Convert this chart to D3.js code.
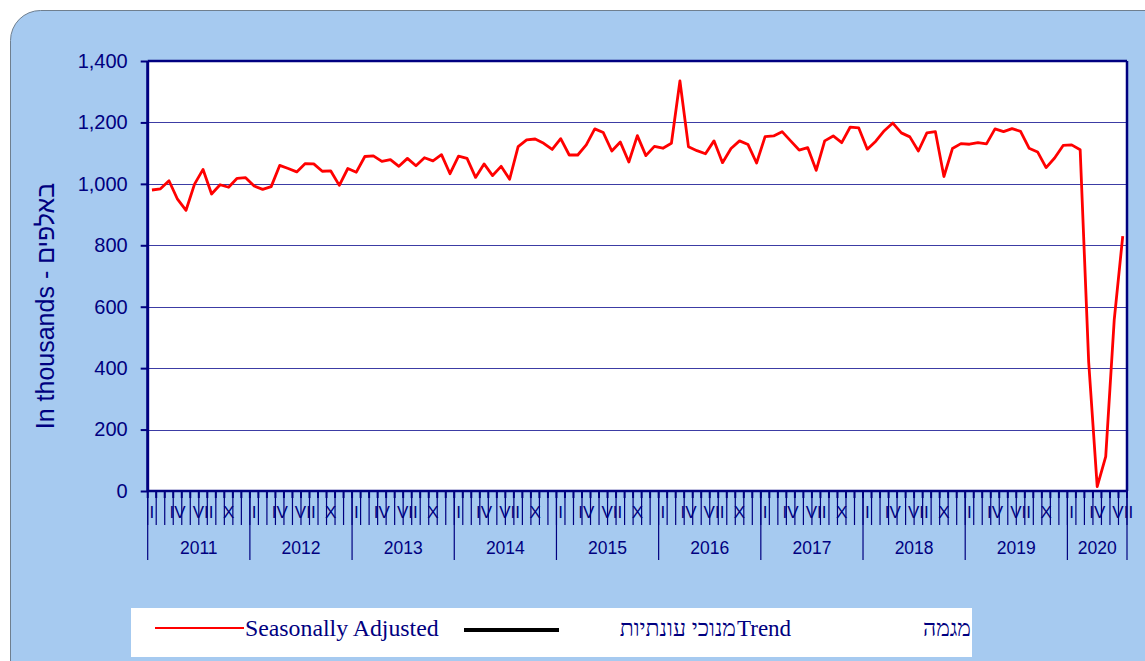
<!DOCTYPE html>
<html>
<head>
<meta charset="utf-8">
<script src="https://cdn.jsdelivr.net/npm/d3@7"></script>
<style>
body { margin: 0; background: #fff; }
svg { display: block; }
</style>
</head>
<body>
<div id="chart"></div>
<script>
// data (thousands), Jan 2011 .. Jul 2020
const years = [2011, 2012, 2013, 2014, 2015, 2016, 2017, 2018, 2019, 2020];
const monthsInYear = [12, 12, 12, 12, 12, 12, 12, 12, 12, 7];
const monthLabels = ["I", "", "", "IV", "", "", "VII", "", "", "X", "", ""];
const yTicks = [0, 200, 400, 600, 800, 1000, 1200, 1400];
const seasonallyAdjusted = [
    980, 984, 1010, 950, 914, 999, 1047, 967, 997, 989, 1018, 1020,
    993, 982, 991, 1060, 1050, 1039, 1066, 1065, 1041, 1042, 995, 1050,
    1038, 1089, 1091, 1073, 1079, 1057, 1083, 1059, 1085, 1075, 1095, 1033,
    1090, 1083, 1021, 1065, 1027, 1057, 1015, 1121, 1143, 1146, 1132, 1112,
    1147, 1094, 1094, 1127, 1179, 1167, 1107, 1136, 1071, 1157, 1092, 1122,
    1116, 1132, 1335, 1121, 1108, 1098, 1140, 1069, 1115, 1140, 1128, 1068,
    1154, 1156, 1170, 1140, 1110, 1118, 1044, 1140, 1156, 1134, 1185, 1182,
    1113, 1139, 1173, 1198, 1166, 1153, 1107, 1166, 1170, 1024, 1115, 1131,
    1129, 1134, 1130, 1179, 1170, 1180, 1171, 1116, 1104, 1053, 1084, 1125,
    1127, 1111, 420, 14, 112, 557, 830
];

// categories "2011-0" ...
const categories = [];
years.forEach((yr, i) => {
    for (let m = 0; m < monthsInYear[i]; m++) categories.push(yr + "-" + m);
});

const W = 1145, H = 661;
const navy = "#000080";
const plot = { left: 147.7, right: 1127, top: 61, bottom: 491 };

const svg = d3.select("#chart").append("svg")
    .attr("width", W)
    .attr("height", H);

// fond bleu arrondi
svg.append("rect")
    .attr("x", 10.5).attr("y", 10.5)
    .attr("width", 1170).attr("height", 700)
    .attr("rx", 30).attr("ry", 30)
    .attr("fill", "#a6caf0")
    .attr("stroke", "#6f7f8f")
    .attr("stroke-width", 1);

const x = d3.scaleBand()
    .domain(categories)
    .range([plot.left, plot.right])
    .paddingInner(0).paddingOuter(0);

const y = d3.scaleLinear()
    .domain([0, 1400])
    .range([plot.bottom, plot.top]);

// zona do grafico
svg.append("rect")
    .attr("x", plot.left).attr("y", plot.top)
    .attr("width", plot.right - plot.left)
    .attr("height", plot.bottom - plot.top)
    .attr("fill", "#fff");

// grelha
svg.append("g")
    .selectAll("line")
    .data(yTicks.filter(d => d > 0 && d < 1400))
    .enter()
    .append("line")
    .attr("x1", plot.left).attr("x2", plot.right)
    .attr("y1", d => Math.round(y(d)) + 0.5)
    .attr("y2", d => Math.round(y(d)) + 0.5)
    .attr("stroke", "#3c3ca4")
    .attr("stroke-width", 1);

// eixo Y
const yAxis = svg.append("g")
    .attr("transform", `translate(${plot.left},0)`)
    .call(d3.axisLeft(y).tickValues(yTicks).tickSize(7).tickPadding(13)
        .tickFormat(d3.format(",")));
yAxis.select(".domain").remove();
yAxis.selectAll("line").attr("stroke", navy).attr("stroke-width", 2);
yAxis.selectAll("text")
    .attr("fill", navy)
    .style("font-family", "Arial, 'Liberation Sans', sans-serif")
    .style("font-size", "20px");

// linhas das categorias (entre meses)
const bw = x.bandwidth();
const edges = categories.map(c => x(c)).concat([x(categories[categories.length - 1]) + bw]);

svg.append("g")
    .selectAll("line")
    .data(edges)
    .enter()
    .append("line")
    .attr("x1", d => d).attr("x2", d => d)
    .attr("y1", plot.bottom).attr("y2", 525)
    .attr("stroke", navy)
    .attr("stroke-width", 1.2);

svg.append("g")
    .selectAll("line")
    .data(edges)
    .enter()
    .append("line")
    .attr("x1", d => d).attr("x2", d => d)
    .attr("y1", plot.bottom).attr("y2", plot.bottom + 7)
    .attr("stroke", navy)
    .attr("stroke-width", 2);

// rotulos dos meses
svg.append("g")
    .selectAll("text")
    .data(categories.filter(c => monthLabels[+c.split("-")[1]] !== ""))
    .enter()
    .append("text")
    .attr("x", d => x(d) + bw / 2)
    .attr("y", 518)
    .attr("text-anchor", "middle")
    .attr("fill", navy)
    .style("font-family", "Arial, 'Liberation Sans', sans-serif")
    .style("font-size", "17px")
    .text(d => monthLabels[+d.split("-")[1]]);

// separadores dos anos + rotulos
let start = 0;
const yearSpans = years.map((yr, i) => {
    const first = categories[start];
    const last = categories[start + monthsInYear[i] - 1];
    start += monthsInYear[i];
    return { yr: yr, x0: x(first), x1: x(last) + bw };
});

svg.append("g")
    .selectAll("line")
    .data(yearSpans.map(d => d.x0).concat([plot.right]))
    .enter()
    .append("line")
    .attr("x1", d => d).attr("x2", d => d)
    .attr("y1", plot.bottom).attr("y2", 560)
    .attr("stroke", navy)
    .attr("stroke-width", 1.2);

svg.append("g")
    .selectAll("text")
    .data(yearSpans)
    .enter()
    .append("text")
    .attr("x", d => (d.x0 + d.x1) / 2)
    .attr("y", 554)
    .attr("text-anchor", "middle")
    .attr("fill", navy)
    .style("font-family", "Arial, 'Liberation Sans', sans-serif")
    .style("font-size", "17.5px")
    .text(d => d.yr);

// linha vermelha
const line = d3.line()
    .x((d, i) => x(categories[i]) + bw / 2)
    .y(d => y(d));

svg.append("path")
    .datum(seasonallyAdjusted)
    .attr("d", line)
    .attr("fill", "none")
    .attr("stroke", "#ff0000")
    .attr("stroke-width", 2.8)
    .attr("stroke-linejoin", "round");

// moldura
svg.append("line")
    .attr("x1", plot.left).attr("x2", plot.right)
    .attr("y1", plot.top).attr("y2", plot.top)
    .attr("stroke", navy).attr("stroke-width", 2.5);
svg.append("line")
    .attr("x1", plot.right).attr("x2", plot.right)
    .attr("y1", plot.top).attr("y2", plot.bottom)
    .attr("stroke", navy).attr("stroke-width", 2.5);
svg.append("line")
    .attr("x1", plot.left).attr("x2", plot.right)
    .attr("y1", plot.bottom).attr("y2", plot.bottom)
    .attr("stroke", navy).attr("stroke-width", 2.5);
svg.append("line")
    .attr("x1", plot.left).attr("x2", plot.left)
    .attr("y1", plot.top).attr("y2", plot.bottom)
    .attr("stroke", navy).attr("stroke-width", 3);

// titulo do eixo Y
svg.append("text")
    .attr("transform", "translate(54,306) rotate(-90)")
    .attr("text-anchor", "middle")
    .attr("fill", navy)
    .style("font-family", "Arial, 'Liberation Sans', sans-serif")
    .style("font-size", "25px")
    .text("In thousands - באלפים");

// legenda
const legend = svg.append("g");
legend.append("rect")
    .attr("x", 131).attr("y", 608)
    .attr("width", 841).attr("height", 49)
    .attr("fill", "#fff");
legend.append("line")
    .attr("x1", 155).attr("x2", 244)
    .attr("y1", 628).attr("y2", 628)
    .attr("stroke", "#ff0000").attr("stroke-width", 2);
legend.append("text")
    .attr("x", 245).attr("y", 636)
    .attr("fill", navy)
    .style("font-family", "'Liberation Serif', 'Times New Roman', serif")
    .style("font-size", "23.8px")
    .text("Seasonally Adjusted");
legend.append("line")
    .attr("x1", 464).attr("x2", 559)
    .attr("y1", 630).attr("y2", 630)
    .attr("stroke", "#000").attr("stroke-width", 4);
legend.append("text")
    .attr("x", 736).attr("y", 636)
    .attr("text-anchor", "end")
    .attr("fill", navy)
    .style("font-family", "'Liberation Serif', 'Times New Roman', serif")
    .style("font-size", "23px")
    .text("מנוכי עונתיות");
legend.append("text")
    .attr("x", 737).attr("y", 636)
    .attr("fill", navy)
    .style("font-family", "'Liberation Serif', 'Times New Roman', serif")
    .style("font-size", "23px")
    .text("Trend");
legend.append("text")
    .attr("x", 971).attr("y", 636)
    .attr("text-anchor", "end")
    .attr("fill", navy)
    .style("font-family", "'Liberation Serif', 'Times New Roman', serif")
    .style("font-size", "23px")
    .text("מגמה");
</script>
</body>
</html>
